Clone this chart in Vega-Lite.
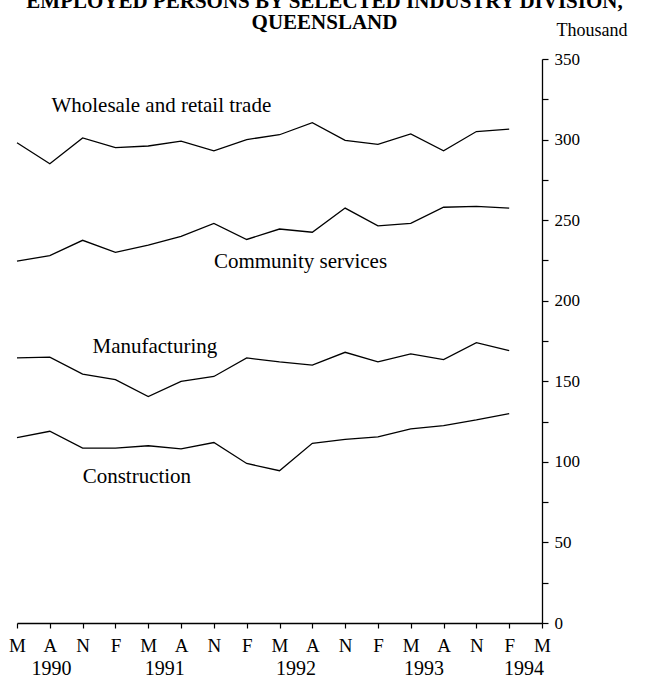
{
  "$schema": "https://vega.github.io/schema/vega-lite/v6.json",
  "autosize": {"type": "none"},
  "padding": {"left": 17, "top": 59, "right": 112, "bottom": 55},
  "width": 525,
  "height": 564,
  "background": "white",
  "config": {
    "view": {"stroke": null},
    "font": "Liberation Serif",
    "axis": {"grid": false, "labelOverlap": false, "domainColor": "black", "tickColor": "black", "labelColor": "black", "titleColor": "black", "labelFont": "Liberation Serif", "titleFont": "Liberation Serif"},
    "axisX": {
      "title": null,
      "values": [0,1,2,3,4,5,6,7,8,9,10,11,12,13,14,15,16],
      "labelExpr": "['M','A','N','F'][datum.value % 4]",
      "labelFontSize": 19,
      "labelPadding": 8,
      "tickSize": 5,
      "domainWidth": 1.3,
      "tickWidth": 1.2,
      "labelAngle": 0,
      "labelFlush": false,
      "labelOverlap": false,
      "labelSeparation": 0,
      "labelBound": false
    },
    "text": {"font": "Liberation Serif", "color": "black"}
  },
  "title": {
    "text": ["EMPLOYED PERSONS BY SELECTED INDUSTRY DIVISION,", "QUEENSLAND"],
    "font": "Liberation Serif",
    "fontSize": 21,
    "fontWeight": "bold",
    "color": "black",
    "anchor": "middle",
    "frame": "group",
    "dx": 45,
    "baseline": "bottom",
    "lineHeight": 21,
    "offset": -33
  },
  "datasets": {
    "series": [
      {"series": "Wholesale and retail trade", "q": 0, "value": 298},
      {"series": "Wholesale and retail trade", "q": 1, "value": 285},
      {"series": "Wholesale and retail trade", "q": 2, "value": 301},
      {"series": "Wholesale and retail trade", "q": 3, "value": 295},
      {"series": "Wholesale and retail trade", "q": 4, "value": 296},
      {"series": "Wholesale and retail trade", "q": 5, "value": 299},
      {"series": "Wholesale and retail trade", "q": 6, "value": 293},
      {"series": "Wholesale and retail trade", "q": 7, "value": 300},
      {"series": "Wholesale and retail trade", "q": 8, "value": 303},
      {"series": "Wholesale and retail trade", "q": 9, "value": 310.5},
      {"series": "Wholesale and retail trade", "q": 10, "value": 299.5},
      {"series": "Wholesale and retail trade", "q": 11, "value": 297},
      {"series": "Wholesale and retail trade", "q": 12, "value": 303.5},
      {"series": "Wholesale and retail trade", "q": 13, "value": 293},
      {"series": "Wholesale and retail trade", "q": 14, "value": 305},
      {"series": "Wholesale and retail trade", "q": 15, "value": 306.5},
      {"series": "Community services", "q": 0, "value": 224.5},
      {"series": "Community services", "q": 1, "value": 228},
      {"series": "Community services", "q": 2, "value": 237.5},
      {"series": "Community services", "q": 3, "value": 230},
      {"series": "Community services", "q": 4, "value": 234.5},
      {"series": "Community services", "q": 5, "value": 240},
      {"series": "Community services", "q": 6, "value": 248},
      {"series": "Community services", "q": 7, "value": 238},
      {"series": "Community services", "q": 8, "value": 244.5},
      {"series": "Community services", "q": 9, "value": 242.5},
      {"series": "Community services", "q": 10, "value": 257.5},
      {"series": "Community services", "q": 11, "value": 246.5},
      {"series": "Community services", "q": 12, "value": 248},
      {"series": "Community services", "q": 13, "value": 258},
      {"series": "Community services", "q": 14, "value": 258.5},
      {"series": "Community services", "q": 15, "value": 257.5},
      {"series": "Manufacturing", "q": 0, "value": 164.5},
      {"series": "Manufacturing", "q": 1, "value": 165},
      {"series": "Manufacturing", "q": 2, "value": 154.5},
      {"series": "Manufacturing", "q": 3, "value": 151},
      {"series": "Manufacturing", "q": 4, "value": 140.5},
      {"series": "Manufacturing", "q": 5, "value": 150},
      {"series": "Manufacturing", "q": 6, "value": 153},
      {"series": "Manufacturing", "q": 7, "value": 164.5},
      {"series": "Manufacturing", "q": 8, "value": 162},
      {"series": "Manufacturing", "q": 9, "value": 160},
      {"series": "Manufacturing", "q": 10, "value": 168},
      {"series": "Manufacturing", "q": 11, "value": 162},
      {"series": "Manufacturing", "q": 12, "value": 167},
      {"series": "Manufacturing", "q": 13, "value": 163.5},
      {"series": "Manufacturing", "q": 14, "value": 174},
      {"series": "Manufacturing", "q": 15, "value": 169},
      {"series": "Construction", "q": 0, "value": 115},
      {"series": "Construction", "q": 1, "value": 119},
      {"series": "Construction", "q": 2, "value": 108.5},
      {"series": "Construction", "q": 3, "value": 108.5},
      {"series": "Construction", "q": 4, "value": 110},
      {"series": "Construction", "q": 5, "value": 108},
      {"series": "Construction", "q": 6, "value": 112},
      {"series": "Construction", "q": 7, "value": 99},
      {"series": "Construction", "q": 8, "value": 94.5},
      {"series": "Construction", "q": 9, "value": 111.5},
      {"series": "Construction", "q": 10, "value": 114},
      {"series": "Construction", "q": 11, "value": 115.5},
      {"series": "Construction", "q": 12, "value": 120.5},
      {"series": "Construction", "q": 13, "value": 122.5},
      {"series": "Construction", "q": 14, "value": 126},
      {"series": "Construction", "q": 15, "value": 130}
    ],
    "labels": [
      {"label": "Wholesale and retail trade", "q": 1.05, "value": 317},
      {"label": "Community services", "q": 6, "value": 220.5},
      {"label": "Manufacturing", "q": 2.3, "value": 167.5},
      {"label": "Construction", "q": 2.0, "value": 87}
    ],
    "years": [
      {"year": "1990", "q": 1.05},
      {"year": "1991", "q": 4.5},
      {"year": "1992", "q": 8.5},
      {"year": "1993", "q": 12.4},
      {"year": "1994", "q": 15.45}
    ]
  },
  "layer": [
    {
      "data": {"name": "series"},
      "mark": {"type": "line", "color": "black", "strokeWidth": 1.3},
      "encoding": {
        "x": {
          "field": "q", "type": "quantitative",
          "scale": {"domain": [0, 16], "nice": false, "zero": false}
        },
        "y": {
          "field": "value", "type": "quantitative",
          "scale": {"domain": [0, 350], "nice": false},
          "axis": {
            "orient": "right",
            "title": "Thousand",
            "titleAngle": 0,
            "titleFontSize": 18,
            "titleFontWeight": "normal",
            "titleAlign": "left",
            "titleBaseline": "alphabetic",
            "titleX": 14,
            "titleY": -24,
            "values": [0,25,50,75,100,125,150,175,200,225,250,275,300,325,350],
            "labelExpr": "datum.value % 50 == 0 ? datum.label : ''",
            "labelFontSize": 17,
            "labelPadding": 6,
            "tickSize": 6,
            "domainWidth": 1.3,
            "tickWidth": 1.2,
            "labelOverlap": false,
            "labelFlush": false
          }
        },
        "detail": {"field": "series"}
      }
    },
    {
      "data": {"name": "labels"},
      "mark": {"type": "text", "align": "left", "baseline": "alphabetic", "fontSize": 21},
      "encoding": {
        "x": {"field": "q", "type": "quantitative"},
        "y": {
          "field": "value", "type": "quantitative",
          "axis": {
            "orient": "right",
            "title": "Thousand",
            "titleAngle": 0,
            "titleFontSize": 18,
            "titleFontWeight": "normal",
            "titleAlign": "left",
            "titleBaseline": "alphabetic",
            "titleX": 14,
            "titleY": -24,
            "values": [0,25,50,75,100,125,150,175,200,225,250,275,300,325,350],
            "labelExpr": "datum.value % 50 == 0 ? datum.label : ''",
            "labelFontSize": 17,
            "labelPadding": 6,
            "tickSize": 6,
            "domainWidth": 1.3,
            "tickWidth": 1.2,
            "labelOverlap": false,
            "labelFlush": false
          }
        },
        "text": {"field": "label"}
      }
    },
    {
      "data": {"name": "years"},
      "mark": {"type": "text", "align": "center", "baseline": "alphabetic", "fontSize": 20, "dy": 52},
      "encoding": {
        "x": {"field": "q", "type": "quantitative"},
        "y": {
          "datum": 0, "type": "quantitative",
          "axis": {
            "orient": "right",
            "title": "Thousand",
            "titleAngle": 0,
            "titleFontSize": 18,
            "titleFontWeight": "normal",
            "titleAlign": "left",
            "titleBaseline": "alphabetic",
            "titleX": 14,
            "titleY": -24,
            "values": [0,25,50,75,100,125,150,175,200,225,250,275,300,325,350],
            "labelExpr": "datum.value % 50 == 0 ? datum.label : ''",
            "labelFontSize": 17,
            "labelPadding": 6,
            "tickSize": 6,
            "domainWidth": 1.3,
            "tickWidth": 1.2,
            "labelOverlap": false,
            "labelFlush": false
          }
        },
        "text": {"field": "year"}
      }
    }
  ]
}
